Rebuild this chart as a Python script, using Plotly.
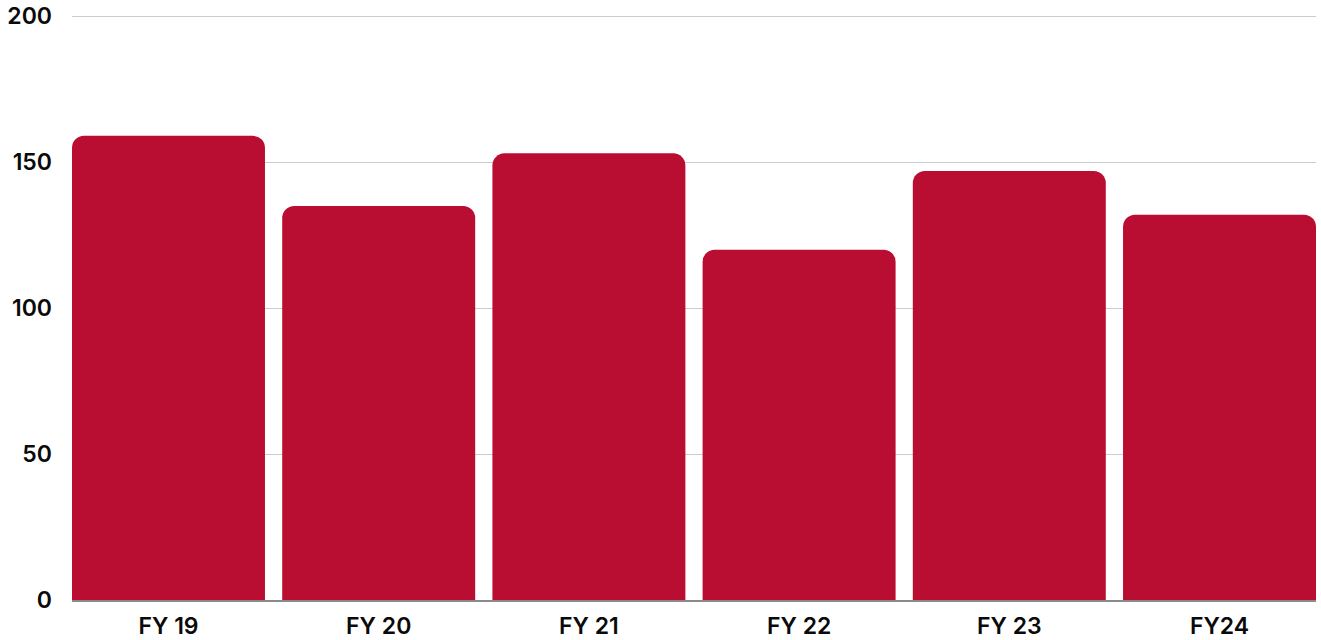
import plotly.graph_objects as go

categories = ["FY 19", "FY 20", "FY 21", "FY 22", "FY 23", "FY24"]
values = [159, 135, 153, 120, 147, 132]
y_ticks = [0, 50, 100, 150, 200]

gap = 0.082
fig = go.Figure(go.Bar(
    x=list(range(len(categories))),
    y=values,
    marker=dict(color="#B90E31", line=dict(width=0)),
    hoverinfo="skip",
))

font_family = "Inter, Liberation Sans, Arial, sans-serif"
fig.update_layout(
    width=1321, height=640,
    autosize=False,
    margin=dict(l=72, r=5, t=15, b=40),
    paper_bgcolor="white", plot_bgcolor="white",
    bargap=gap,
    barcornerradius=12,
    showlegend=False,
    font=dict(family=font_family, size=23, color="#0a0a0a"),
    xaxis=dict(
        tickmode="array",
        tickvals=list(range(len(categories))),
        ticktext=categories,
        range=[-0.5 + gap / 2, len(categories) - 0.5 - gap / 2],
        showgrid=False, zeroline=False, automargin=False,
        showline=True, linecolor="#8a8a8a", linewidth=1.5,
        ticks="", ticklabelstandoff=5,
        tickfont=dict(family=font_family, size=23, weight=600),
    ),
    yaxis=dict(
        range=[0, 200.4],
        tickmode="array", tickvals=y_ticks, automargin=False,
        showgrid=True, gridcolor="#cccccc", gridwidth=1.3,
        zeroline=False, ticks="", ticklabelstandoff=19,
        tickfont=dict(family=font_family, size=23, weight=600),
    ),
)

fig.write_html(
    "out.html",
    config={"displayModeBar": False, "responsive": False},
    post_script="document.body.style.margin='0';document.body.style.padding='0';",
)
